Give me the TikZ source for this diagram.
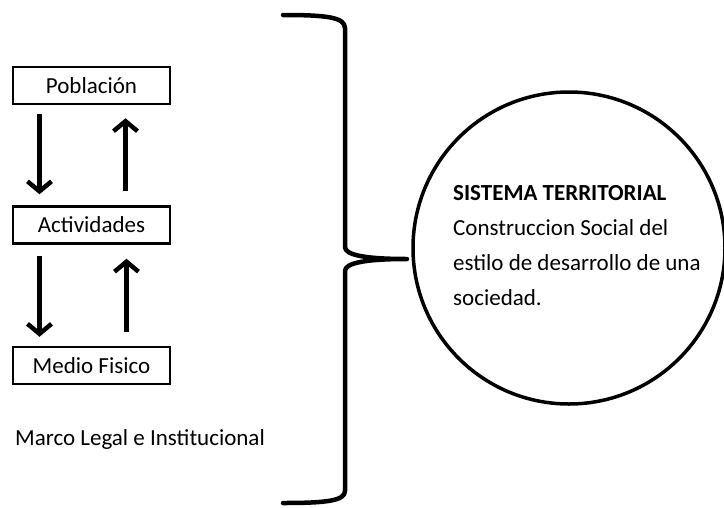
\documentclass[tikz,border=0pt]{standalone}
\usepackage{fontspec}
\setmainfont{Carlito}
\usetikzlibrary{arrows.meta,calc}
\begin{document}
\begin{tikzpicture}[x=1pt,y=-1pt,
  box/.style={draw=black,line width=2.5pt,minimum width=157pt,minimum height=37pt,inner sep=0pt,font=\fontsize{23}{28}\selectfont},
  arr/.style={line width=4.5pt,-{Straight Barb[length=10pt,width=24pt]}},
  brace/.style={line width=4.5pt,line cap=round,line join=round},
  txt/.style={font=\fontsize{23}{35}\selectfont,inner sep=0pt}]
\useasboundingbox (0,0) rectangle (724,507);
\node[box] (pob) at (91.5,85.5) {Población};
\node[box] (act) at (91.5,225) {Actividades};
\node[box] (med) at (91.5,365.5) {Medio Fisico};
\draw[arr] ([shift={(-52,9)}]pob.south) -- ([shift={(-52,-11)}]act.north);
\draw[arr] ([shift={(34,-14)}]act.north) -- ([shift={(34,13)}]pob.south);
\draw[arr] ([shift={(-52,11)}]act.south) -- ([shift={(-52,-9)}]med.north);
\draw[arr] ([shift={(35,-14)}]med.north) -- ([shift={(35,14)}]act.south);
\node[txt,anchor=base west] (marco) at (15,445) {Marco Legal e Institucional};
\node[draw=black,line width=3.5pt,circle,minimum size=312pt,inner sep=0pt] (circ) at (569,248) {};
\coordinate (tip) at (407,259);
\draw[brace] (283,15) .. controls (325,15) and (345,17) .. (345,28) -- (345,247)
  .. controls (345,255) and (365,259) .. (tip)
  .. controls (365,259) and (345,263) .. (345,271) -- (345,491)
  .. controls (345,501) and (325,503) .. (283,503);
\node[txt,anchor=north west,align=left] (sys) at (453,185) {\textbf{SISTEMA TERRITORIAL}\\Construccion Social del\\estilo de desarrollo de una\\sociedad.};
\end{tikzpicture}
\end{document}
